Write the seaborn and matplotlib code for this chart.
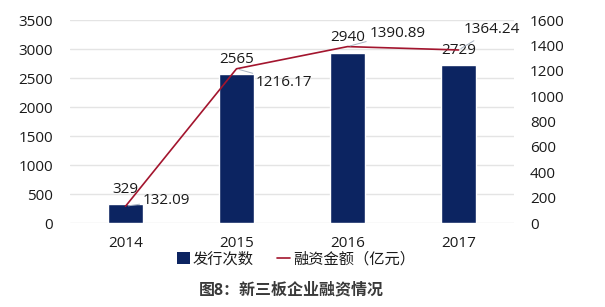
import matplotlib
matplotlib.use("Agg")
import matplotlib.pyplot as plt
import seaborn as sns
import pandas as pd
from matplotlib.patches import Patch
from matplotlib.lines import Line2D

years = ["2014", "2015", "2016", "2017"]
issues = [329, 2565, 2940, 2729]
amount = [132.09, 1216.17, 1390.89, 1364.24]
left_ticks = [0, 500, 1000, 1500, 2000, 2500, 3000, 3500]
right_ticks = [0, 200, 400, 600, 800, 1000, 1200, 1400, 1600]
legend_labels = ["发行次数", "融资金额（亿元）"]
title = "图8：新三板企业融资情况"

sns.set_theme(style="white")
plt.rcParams["font.family"] = ["Open Sans", "Noto Sans CJK SC", "DejaVu Sans"]

bar_color = "#0c2461"
line_color = "#a3152e"
text_color = "#1a1a1a"
fs = 11

df = pd.DataFrame({"year": years, "issues": issues, "amount": amount})

fig = plt.figure(figsize=(6.05, 3.07), dpi=100)
ax = fig.add_axes([0.1157, 0.2736, 0.734, 0.661])
sns.barplot(data=df, x="year", y="issues", ax=ax, color=bar_color,
            width=0.32, saturation=1)
ax2 = ax.twinx()
sns.lineplot(data=df, x="year", y="amount", ax=ax2, color=line_color,
             linewidth=1.2, sort=False)

ax.set_xlim(-0.5, 3.5)
ax.set_ylim(0, 3500)
ax2.set_ylim(0, 1600)
ax.set_yticks(left_ticks)
ax2.set_yticks(right_ticks)
ax.yaxis.grid(True, color="#e4e4e4", linewidth=1)
ax.set_axisbelow(True)
ax2.grid(False)
for a in (ax, ax2):
    for s in a.spines.values():
        s.set_visible(False)
    a.tick_params(length=0, labelsize=fs, labelcolor=text_color)
    a.set_xlabel("")
    a.set_ylabel("")
ax.tick_params(axis="x", pad=9)
ax.tick_params(axis="y", pad=12)
ax2.tick_params(axis="y", pad=11.5)

# bar labels
for i, v in enumerate(issues):
    ax.annotate(str(v), (i, v), xytext=(0, 10.5), textcoords="offset points",
                ha="center", va="center", fontsize=fs, color=text_color)

# line labels with leader lines
line_offsets = [(12.5, 4.3), (14, -9.6), (15.8, 9.7), (3.6, 14.4)]
for i, v in enumerate(amount):
    ax2.annotate(f"{v:.2f}", (i, v), xytext=line_offsets[i], textcoords="offset points",
                 ha="left", va="center", fontsize=fs, color=text_color,
                 arrowprops=dict(arrowstyle="-", color="#a9b4c2", lw=0.7,
                                 shrinkA=0, shrinkB=2))

handles = [Patch(facecolor=bar_color, edgecolor="none"),
           Line2D([0], [0], color=line_color, lw=1.2)]
fig.legend(handles, legend_labels, loc="center", bbox_to_anchor=(0.489, 0.153),
           ncol=2, frameon=False, fontsize=11, handlelength=0.85,
           handleheight=0.8, handletextpad=0.2, columnspacing=1.5,
           labelcolor=text_color)

fig.text(0.481, 0.055, title, ha="center", va="center", fontsize=11.5,
         fontweight="bold", color="#3a3a3a")

fig.savefig("out.png", dpi=100)
